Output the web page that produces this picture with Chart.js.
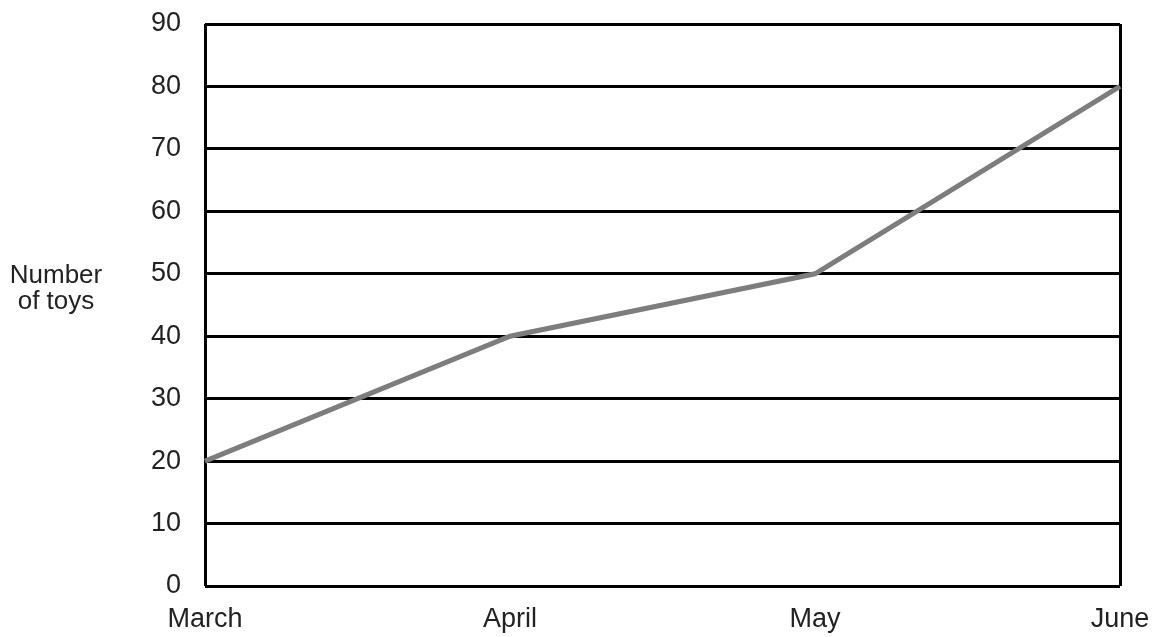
<!DOCTYPE html>
<html>
<head>
<meta charset="utf-8">
<script src="https://cdn.jsdelivr.net/npm/chart.js@4/dist/chart.umd.min.js"></script>
<style>
    html, body { margin: 0; padding: 0; background: #fff; }
    #wrap { width: 1159px; height: 637px; position: relative; }
</style>
</head>
<body>
<div id="wrap"><canvas id="toysChart"></canvas></div>
<script>
const months = ["March", "April", "May", "June"];
const toys = [20, 40, 50, 80];
const yTitle = ["Number", "of toys"];

// draws the horizontal y title to the left of the tick labels
const yTitlePlugin = {
    id: "yTitle",
    afterDraw(chart) {
        const c = chart.ctx;
        c.save();
        c.font = "26px 'Liberation Sans', Arial, sans-serif";
        c.fillStyle = "#222";
        c.textAlign = "center";
        c.textBaseline = "middle";
        c.fillText(yTitle[0], 56, 276);
        c.fillText(yTitle[1], 56, 302);
        c.restore();
    },
};

document.addEventListener("DOMContentLoaded", function () {
    const ctx = document.getElementById("toysChart").getContext("2d");
    new Chart(ctx, {
        type: "line",
        data: {
            labels: months,
            datasets: [{
                data: toys,
                borderColor: "#7d7d7d",
                borderWidth: 5,
                pointRadius: 0,
                tension: 0,
            }],
        },
        options: {
            responsive: true,
            maintainAspectRatio: false,
            animation: false,
            layout: {
                padding: { top: 24, right: 39, left: 0, bottom: 0 },
            },
            plugins: {
                legend: { display: false },
                tooltip: { enabled: false },
            },
            scales: {
                x: {
                    offset: false,
                    border: { display: false },
                    grid: {
                        drawTicks: false,
                        lineWidth: 3,
                        color: (c) => (c.index === 0 || c.index === months.length - 1) ? "#000" : "rgba(0,0,0,0)",
                    },
                    ticks: {
                        padding: 17,
                        color: "#222",
                        maxRotation: 0,
                        font: { family: "'Liberation Sans', Arial, sans-serif", size: 27 },
                    },
                    afterFit: (scale) => {
                        scale.height = 51;
                        scale.paddingLeft = 0;
                        scale.paddingRight = 0;
                    },
                },
                y: {
                    min: 0,
                    max: 90,
                    border: { display: false },
                    grid: {
                        drawTicks: false,
                        lineWidth: 3,
                        color: "#000",
                    },
                    ticks: {
                        stepSize: 10,
                        padding: 24,
                        color: "#222",
                        font: { family: "'Liberation Sans', Arial, sans-serif", size: 27 },
                    },
                    afterFit: (scale) => {
                        scale.width = 205;
                        scale.paddingTop = 0;
                        scale.paddingBottom = 0;
                    },
                },
            },
        },
        plugins: [yTitlePlugin],
    });
});
</script>
</body>
</html>
